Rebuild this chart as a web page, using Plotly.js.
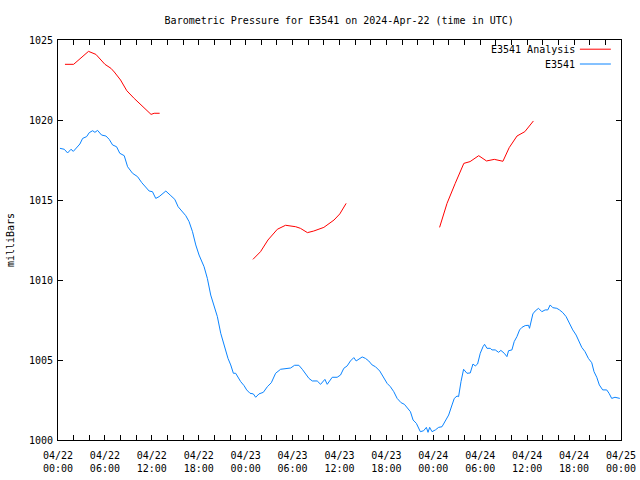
<!DOCTYPE html>
<html>
<head>
<meta charset="utf-8">
<script src="https://cdn.plot.ly/plotly-3.0.1.min.js"></script>
<style>html,body{margin:0;padding:0;background:#fff;}#chart{width:640px;height:480px;}</style>
</head>
<body>
<div id="chart"></div>
<script>
// Hours since 2024-04-22 00:00 UTC
const obsHours = [0.25,0.8,1.23,1.66,1.96,2.38,2.8,3.15,3.66,4.0,4.43,4.72,5.06,5.57,6.13,6.55,6.98,7.49,7.9,8.47,8.9,9.53,10.17,10.72,11.23,11.66,12.08,12.5,12.93,13.15,13.79,14.43,14.94,15.36,15.91,16.34,16.76,17.2,17.62,18.04,18.68,19.1,19.53,19.96,20.38,20.81,21.32,21.74,22.09,22.43,22.72,22.94,23.36,23.79,24.13,24.55,24.98,25.28,25.7,26.26,26.77,27.28,27.83,28.47,29.1,29.75,30.26,30.8,31.24,31.66,32.09,32.52,33.15,33.58,34.13,34.43,35.07,35.7,36.13,36.55,36.98,37.4,37.83,38.13,38.47,38.9,39.32,39.74,40.17,40.6,41.15,41.66,42.09,42.51,42.94,43.37,43.88,44.3,44.72,45.07,45.41,45.83,46.34,46.76,47.11,47.32,47.53,47.83,48.26,48.68,49.11,49.53,49.96,50.39,50.68,51.03,51.23,51.54,51.87,52.3,52.72,53.07,53.36,53.66,54.0,54.35,54.55,54.86,55.28,55.5,55.92,56.34,56.64,57.07,57.41,57.62,58.05,58.34,58.69,59.03,59.33,59.75,60.17,60.3,60.47,60.73,61.02,61.45,61.88,62.3,62.64,62.94,63.28,63.79,64.13,64.56,64.98,65.4,65.83,66.26,66.55,66.98,67.4,67.83,68.26,68.55,68.9,69.23,69.66,70.17,70.47,70.81,71.23,71.85];
const obsPressure = [1018.23,1018.17,1017.94,1018.17,1018.04,1018.29,1018.5,1018.85,1018.96,1019.21,1019.33,1019.23,1019.35,1019.06,1019.0,1018.79,1018.44,1018.33,1017.92,1017.77,1017.08,1016.67,1016.46,1016.08,1015.79,1015.56,1015.52,1015.1,1015.21,1015.31,1015.56,1015.27,1015.04,1014.58,1014.27,1014.02,1013.65,1013.02,1012.19,1011.56,1010.83,1010.1,1009.06,1008.33,1007.71,1006.67,1005.73,1005.1,1004.69,1004.17,1004.17,1003.96,1003.65,1003.4,1003.13,1002.92,1002.88,1002.67,1002.88,1002.98,1003.33,1003.58,1004.17,1004.42,1004.48,1004.5,1004.67,1004.67,1004.42,1004.1,1003.85,1003.69,1003.69,1003.48,1003.79,1003.48,1003.92,1003.92,1004.06,1004.48,1004.63,1004.94,1005.15,1004.94,1005.06,1005.19,1005.1,1004.94,1004.69,1004.58,1004.31,1003.85,1003.54,1003.33,1003.02,1002.6,1002.33,1002.23,1001.98,1001.77,1001.25,1001.04,1000.52,1000.58,1000.79,1000.48,1000.79,1000.52,1000.63,1000.79,1000.83,1001.15,1001.56,1002.19,1002.6,1002.75,1002.71,1003.65,1004.42,1004.17,1004.19,1004.75,1004.63,1004.75,1005.42,1005.83,1005.98,1005.73,1005.73,1005.63,1005.63,1005.48,1005.6,1005.42,1005.21,1005.58,1005.63,1006.15,1006.46,1006.88,1007.04,1007.15,1007.17,1006.98,1007.29,1007.88,1008.06,1008.23,1008.02,1008.13,1008.13,1008.44,1008.27,1008.23,1008.13,1007.96,1007.71,1007.29,1006.88,1006.56,1006.25,1005.79,1005.52,1005.1,1004.83,1004.27,1003.92,1003.44,1003.13,1003.13,1002.92,1002.6,1002.67,1002.6];

// Analysis runs (null separates the runs)
const anaHours = [0.89,2.0,3.9,4.85,5.5,6.0,6.77,7.2,8.0,8.8,9.74,10.6,11.45,11.9,12.3,13.0,
  null,
  24.93,25.9,26.85,28.05,29.1,30.4,31.0,31.9,32.7,34.0,35.3,36.04,36.85,
  null,
  48.8,49.75,50.8,51.9,52.7,53.8,54.8,55.8,56.9,57.7,58.7,59.7,60.8];
const anaPressure = [1023.48,1023.48,1024.29,1024.1,1023.75,1023.48,1023.23,1023.0,1022.5,1021.83,1021.35,1020.94,1020.56,1020.35,1020.42,1020.42,
  null,
  1011.29,1011.77,1012.5,1013.17,1013.42,1013.33,1013.23,1012.96,1013.06,1013.29,1013.75,1014.13,1014.79,
  null,
  1013.29,1014.79,1016.04,1017.29,1017.4,1017.77,1017.44,1017.54,1017.42,1018.27,1019.0,1019.27,1019.94];

const tickHours = [0,6,12,18,24,30,36,42,48,54,60,66,72];
const tickLabels = ['04/22<br>00:00','04/22<br>06:00','04/22<br>12:00','04/22<br>18:00','04/23<br>00:00','04/23<br>06:00','04/23<br>12:00','04/23<br>18:00','04/24<br>00:00','04/24<br>06:00','04/24<br>12:00','04/24<br>18:00','04/25<br>00:00'];
const seriesNames = ['E3541 Analysis','E3541'];

const base = Date.UTC(2024,3,22,0,0,0);
function pad(n){return (n<10?'0':'')+n;}
function toDate(h){
  if(h===null) return null;
  const d = new Date(base + Math.round(h*3600)*1000);
  return d.getUTCFullYear()+'-'+pad(d.getUTCMonth()+1)+'-'+pad(d.getUTCDate())+' '+pad(d.getUTCHours())+':'+pad(d.getUTCMinutes())+':'+pad(d.getUTCSeconds());
}

// minor ticks every 2h, labels every 6h
const allTickVals = [], allTickText = [];
for (let h = 0; h <= 72; h += 2) {
  allTickVals.push(toDate(h));
  const i = tickHours.indexOf(h);
  allTickText.push(i >= 0 ? tickLabels[i] : '');
}

const red = '#ff0000', blue = '#0a84ff';
const FONT = 'DejaVu Sans Mono, Liberation Mono, monospace';

const traces = [
  {x: anaHours.map(toDate), y: anaPressure, type:'scatter', mode:'lines', name: seriesNames[0],
   line:{color:red, width:1}, connectgaps:false, showlegend:false},
  {x: obsHours.map(toDate), y: obsPressure, type:'scatter', mode:'lines', name: seriesNames[1],
   line:{color:blue, width:1}, showlegend:false}
];

const layout = {
  width:640, height:480,
  margin:{l:58, r:19, t:40, b:40},
  paper_bgcolor:'#fff', plot_bgcolor:'#fff',
  font:{family:FONT, size:10, color:'#000'},
  title:{text:'Barometric Pressure for E3541 on 2024-Apr-22 (time in UTC)', x:0.53, xanchor:'center', y:0.958, yanchor:'middle', font:{family:FONT, size:10}},
  xaxis:{type:'date', range:[toDate(0), toDate(72)], tickmode:'array', tickvals:allTickVals, ticktext:allTickText,
    ticks:'inside', ticklen:5, tickcolor:'#000', showline:true, linecolor:'#000', linewidth:1, mirror:'ticks',
    showgrid:false, zeroline:false, tickfont:{family:FONT, size:10}, ticklabelstandoff:6},
  yaxis:{range:[1000,1025], tickmode:'array', tickvals:[1000,1005,1010,1015,1020,1025],
    ticks:'inside', ticklen:5, tickcolor:'#000', showline:true, linecolor:'#000', linewidth:1, mirror:'ticks',
    showgrid:false, zeroline:false, tickfont:{family:FONT, size:10}, ticklabelstandoff:2,
    title:{text:'milliBars', font:{family:FONT, size:10}, standoff:12}},
  annotations:[
    {xref:'paper', yref:'paper', x:0.921, y:0.977, xanchor:'right', yanchor:'middle', text:seriesNames[0], showarrow:false, font:{family:FONT,size:10}},
    {xref:'paper', yref:'paper', x:0.921, y:0.94, xanchor:'right', yanchor:'middle', text:seriesNames[1], showarrow:false, font:{family:FONT,size:10}}
  ],
  shapes:[
    {type:'line', xref:'paper', yref:'paper', x0:0.927, x1:0.982, y0:0.977, y1:0.977, line:{color:red, width:1}},
    {type:'line', xref:'paper', yref:'paper', x0:0.927, x1:0.982, y0:0.94, y1:0.94, line:{color:blue, width:1}}
  ]
};

Plotly.newPlot('chart', traces, layout, {staticPlot:true, displayModeBar:false});
</script>
</body>
</html>
